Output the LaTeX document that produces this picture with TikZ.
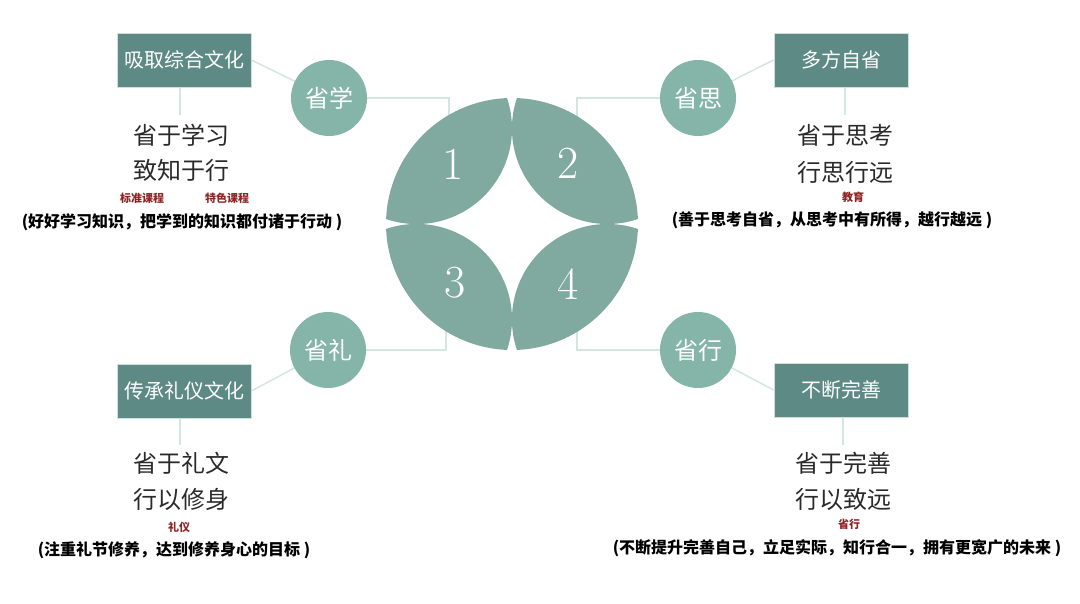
\documentclass[tikz,border=0pt]{standalone}
\usepackage{fontspec}
\newfontfamily\cjk{Noto Sans CJK SC}
\definecolor{boxc}{HTML}{5E8A85}
\definecolor{boxedge}{HTML}{CFE0DA}
\definecolor{circc}{HTML}{85B5A8}
\definecolor{petalc}{HTML}{80A9A0}
\definecolor{linkc}{HTML}{D3E6DF}
\definecolor{headc}{HTML}{2A2A2A}
\definecolor{tagc}{HTML}{8E2424}
\begin{document}
\begin{tikzpicture}[x=1pt,y=-1pt,
  box/.style={fill=boxc, draw=boxedge, line width=0.8pt, minimum width=134pt, minimum height=54pt, inner sep=0pt, text=white, font=\cjk\fontsize{20}{24}\selectfont},
  ring/.style={circle, fill=circc, minimum size=76pt, inner sep=0pt, text=white, font=\cjk\fontsize{24}{28}\selectfont},
  link/.style={draw=linkc, line width=1.5pt},
  head/.style={text=headc, inner sep=0pt, font=\cjk\fontsize{24}{28}\selectfont},
  tag/.style={text=tagc, inner sep=0pt, font=\cjk\bfseries\fontsize{11}{13}\selectfont},
  desc/.style={text=black, inner sep=0pt, font=\cjk\bfseries\fontsize{16}{19}\selectfont},
  petal/.style={fill=petalc},
  num/.style={text=white, inner sep=0pt, font=\fontsize{46}{50}\selectfont}]
\useasboundingbox (0,0) rectangle (1080,604);

% nodes (positions)
\node[box] (b1) at (184,60) {吸取综合文化};
\node[box] (b2) at (841,60) {多方自省};
\node[box] (b3) at (184,391) {传承礼仪文化};
\node[box] (b4) at (841,390) {不断完善};

\coordinate (k1) at (449,125);
\coordinate (k2) at (577,125);
\coordinate (k3) at (446,330);
\coordinate (k4) at (577,330);
\coordinate (d1) at (180,115);
\coordinate (d2) at (845,115);
\coordinate (d3) at (180,445);
\coordinate (d4) at (843,445);

\coordinate (c1p) at (329,98);
\coordinate (c2p) at (698,98);
\coordinate (c3p) at (328,350);
\coordinate (c4p) at (698,350);

% connectors (behind)
\draw[link] (b1.east) -- (c1p);
\draw[link] (b2.west) -- (c2p);
\draw[link] (b3.east) -- (c3p);
\draw[link] (b4.west) -- (c4p);
\draw[link] (c1p) -| (k1);
\draw[link] (c2p) -| (k2);
\draw[link] (c3p) -| (k3);
\draw[link] (c4p) -| (k4);
\draw[link] (b1.south -| d1) -- (d1);
\draw[link] (b2.south -| d2) -- (d2);
\draw[link] (b3.south -| d3) -- (d3);
\draw[link] (b4.south -| d4) -- (d4);

% redraw boxes on top of their links
\node[box] at (b1) {吸取综合文化};
\node[box] at (b2) {多方自省};
\node[box] at (b3) {传承礼仪文化};
\node[box] at (b4) {不断完善};

% petals
\begin{scope}[shift={(512,224)}, y=1pt]
  \fill[petal] (177.73:126) arc[start angle=177.73, end angle=92.27, radius=126]
     arc[start angle=18.62, end angle=-108.62, radius=95.5] -- cycle;
  \fill[petal] (87.73:126) arc[start angle=87.73, end angle=2.27, radius=126]
     arc[start angle=288.62, end angle=161.38, radius=95.5] -- cycle;
  \fill[petal] (182.27:126) arc[start angle=182.27, end angle=267.73, radius=126]
     arc[start angle=-18.62, end angle=108.62, radius=95.5] -- cycle;
  \fill[petal] (272.27:126) arc[start angle=272.27, end angle=357.73, radius=126]
     arc[start angle=71.38, end angle=198.62, radius=95.5] -- cycle;
\end{scope}
\node[num] (n1) at (453,164) {1};
\node[num] (n2) at (568,163) {2};
\node[num] (n3) at (455,283) {3};
\node[num] (n4) at (568,284) {4};

% circles
\node[ring] (c1) at (c1p) {省学};
\node[ring] (c2) at (c2p) {省思};
\node[ring] (c3) at (c3p) {省礼};
\node[ring] (c4) at (c4p) {省行};

% texts top-left
\node[head] (h1a) at (181,135) {省于学习};
\node[head] (h1b) at (181,170) {致知于行};
\node[tag] (t1a) at (142,198) {标准课程};
\node[tag] (t1b) at (227,198) {特色课程};
\node[desc] (e1) at (182,222) {(好好学习知识，把学到的知识都付诸于行动 )};

% top-right
\node[head] (h2a) at (845,135) {省于思考};
\node[head] (h2b) at (845,172) {行思行远};
\node[tag] (t2) at (853,197) {教育};
\node[desc] (e2) at (832,220) {(善于思考自省，从思考中有所得，越行越远 )};

% bottom-left
\node[head] (h3a) at (181,463) {省于礼文};
\node[head] (h3b) at (181,499) {行以修身};
\node[tag] (t3) at (179,527) {礼仪};
\node[desc] (e3) at (174,550) {(注重礼节修养，达到修养身心的目标 )};

% bottom-right
\node[head] (h4a) at (843,463) {省于完善};
\node[head] (h4b) at (843,499) {行以致远};
\node[tag] (t4) at (849,524) {省行};
\node[desc] (e4) at (837,548) {(不断提升完善自己，立足实际，知行合一，拥有更宽广的未来 )};
\end{tikzpicture}
\end{document}
